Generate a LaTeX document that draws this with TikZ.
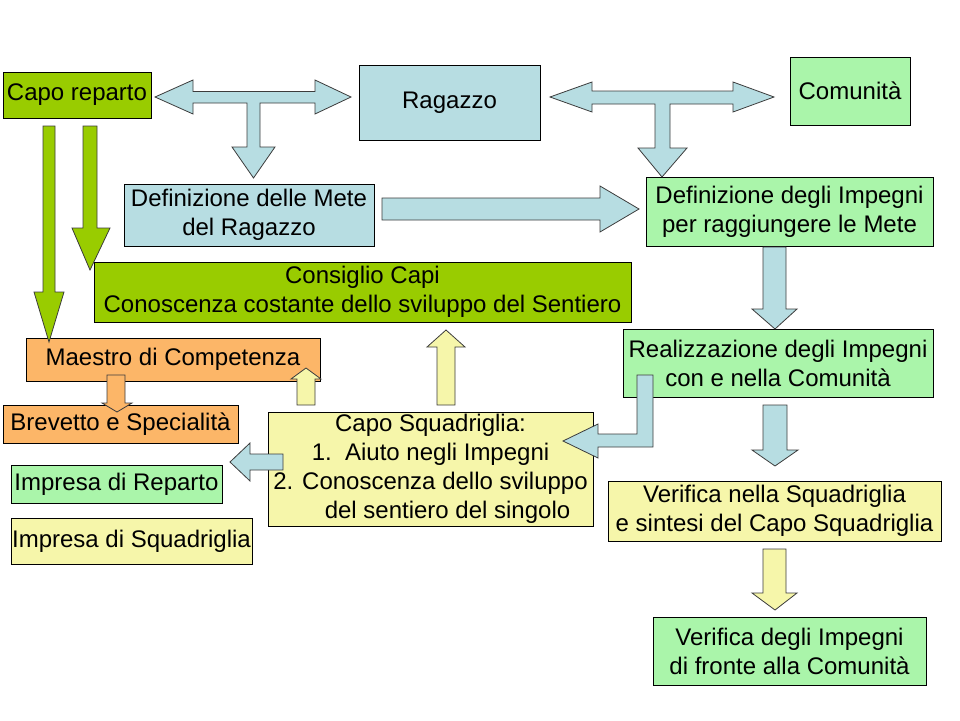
\documentclass[tikz,border=0pt]{standalone}
\usepackage{fontspec}
\setmainfont{Liberation Sans}
\definecolor{verdescuro}{RGB}{153,204,0}
\definecolor{verdechiaro}{RGB}{170,245,170}
\definecolor{azzurro}{RGB}{183,221,226}
\definecolor{arancio}{RGB}{252,182,104}
\definecolor{giallo}{RGB}{246,246,170}
\definecolor{bordo}{RGB}{60,60,60}
\begin{document}
\begin{tikzpicture}[
  x=1pt, y=-1pt,
  box/.style={draw=black, line width=0.8pt, inner sep=1pt, align=center,
    font=\fontsize{24}{29}\selectfont},
  freccia/.style={draw=bordo, line width=0.8pt, line join=miter}
]
\useasboundingbox (0,0) rectangle (960,720);
% caselle
\node[box, fill=verdescuro, minimum width=148, minimum height=46] (capo) at (77,95) {Capo reparto};
\node[box, fill=azzurro, minimum width=181, minimum height=75] (ragazzo) at (449.5,102.5) {Ragazzo};
\node[box, fill=verdechiaro, minimum width=120, minimum height=68] (comunita) at (850,91) {Comunità};
\node[box, fill=azzurro, minimum width=250, minimum height=62] (mete) at (249,215) {Definizione delle Mete\\del Ragazzo};
\node[box, fill=verdechiaro, minimum width=287, minimum height=69] (impegni) at (789.5,211.5) {Definizione degli Impegni\\per raggiungere le Mete};
\node[box, fill=verdescuro, minimum width=537, minimum height=60] (consiglio) at (362.5,292) {Consiglio Capi\\Conoscenza costante dello sviluppo del Sentiero};
\node[box, fill=arancio, minimum width=294, minimum height=43] (maestro) at (173,359.5) {Maestro di Competenza};
\node[box, fill=arancio, minimum width=235, minimum height=38] (brevetto) at (120.5,424) {Brevetto e Specialità};
\node[box, fill=verdechiaro, minimum width=211, minimum height=38] (irep) at (116.5,484) {Impresa di Reparto};
\node[box, fill=giallo, minimum width=241, minimum height=46] (isq) at (131.5,541) {Impresa di Squadriglia};
\node[box, fill=giallo, minimum width=325, minimum height=114] (capisq) at (430.5,469)
  {Capo Squadriglia:\\1.~~Aiuto negli Impegni\\2. Conoscenza dello sviluppo\\\hspace*{34pt}del sentiero del singolo};
\node[box, fill=verdechiaro, minimum width=310, minimum height=68] (realiz) at (778,363) {Realizzazione degli Impegni\\con e nella Comunità};
\node[box, fill=giallo, minimum width=333, minimum height=60] (verifsq) at (774.5,511) {Verifica nella Squadriglia\\e sintesi del Capo Squadriglia};
\node[box, fill=verdechiaro, minimum width=273, minimum height=68] (verifcom) at (789.5,651) {Verifica degli Impegni\\di fronte alla Comunità};
% frecce a T
\filldraw[freccia, fill=azzurro] (155,97) -- (193,80) -- (193,91.5) -- (315,91.5) -- (315,80) -- (351,97)
  -- (315,114) -- (315,103) -- (260,103) -- (260,147) -- (275,147) -- (253.5,178) -- (232,147)
  -- (247,147) -- (247,103) -- (193,103) -- (193,114) -- cycle;
\filldraw[freccia, fill=azzurro] (550,97) -- (592,82) -- (592,91) -- (733,91) -- (733,82) -- (774,97)
  -- (733,112) -- (733,104) -- (670,104) -- (670,148) -- (687,148) -- (662,177) -- (638,148)
  -- (655,148) -- (655,104) -- (592,104) -- (592,112) -- cycle;
% frecce semplici
\filldraw[freccia, fill=azzurro] (382,198) -- (600,198) -- (600,186) -- (639,209) -- (600,232) -- (600,220) -- (382,220) -- cycle;
\filldraw[freccia, fill=azzurro] (763,247) -- (786,247) -- (786,309) -- (797,309) -- (775,329) -- (752,309) -- (763,309) -- cycle;
\filldraw[freccia, fill=azzurro] (763,405) -- (787,405) -- (787,450) -- (798,450) -- (775,466) -- (752,450) -- (763,450) -- cycle;
\filldraw[freccia, fill=giallo] (763,549) -- (786,549) -- (786,593) -- (797,593) -- (775,610) -- (752,593) -- (763,593) -- cycle;
\filldraw[freccia, fill=azzurro] (637,375) -- (653,375) -- (653,447) -- (598,447) -- (598,458) -- (563,441)
  -- (598,424) -- (598,434) -- (637,434) -- cycle;
\filldraw[freccia, fill=azzurro] (283,454) -- (283,470) -- (250,470) -- (250,481) -- (230,462) -- (250,443) -- (250,454) -- cycle;
\filldraw[freccia, fill=arancio] (107,375) -- (125,375) -- (125,403) -- (132,403) -- (117,412) -- (102,403) -- (107,403) -- cycle;
\filldraw[freccia, fill=giallo] (297,405) -- (315,405) -- (315,379) -- (321,379) -- (306,368) -- (291,379) -- (297,379) -- cycle;
\filldraw[freccia, fill=giallo] (437,405) -- (455,405) -- (455,347) -- (465,347) -- (446,330) -- (427,347) -- (437,347) -- cycle;
\filldraw[freccia, fill=verdescuro] (43,126) -- (55,126) -- (55,292) -- (64,292) -- (49,342) -- (34,292) -- (43,292) -- cycle;
\filldraw[freccia, fill=verdescuro] (83,126) -- (97,126) -- (97,228) -- (110,228) -- (90,270) -- (72,228) -- (83,228) -- cycle;
\end{tikzpicture}
\end{document}
